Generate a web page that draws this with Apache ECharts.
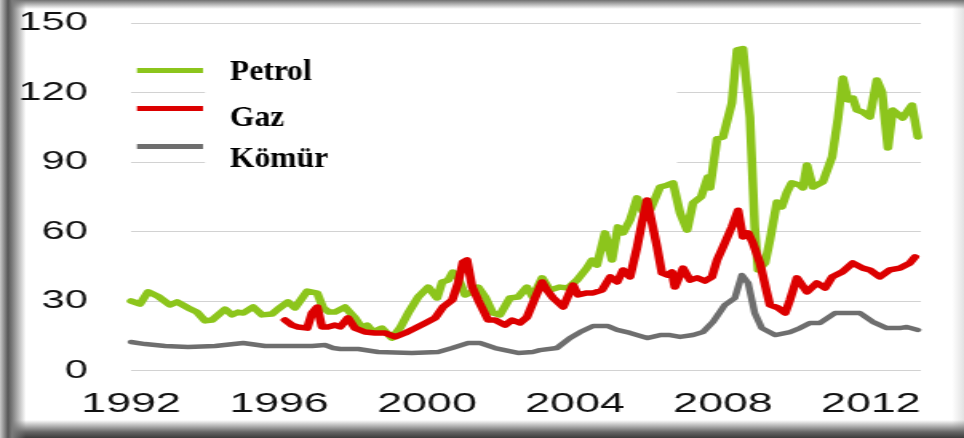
<!DOCTYPE html>
<html>
<head>
<meta charset="utf-8">
<title>Petrol Gaz Kömür</title>
<script src="https://cdn.jsdelivr.net/npm/echarts@6/dist/echarts.min.js"></script>
<style>
html,body{margin:0;padding:0;background:#fff;}
#frame{
	position:relative;width:964px;height:438px;overflow:hidden;
	background:
		linear-gradient(to right,#c8c8c8 0px,#575757 8px,#7a7a7a 12px,rgba(255,255,255,0) 26px) left top/26px 100% no-repeat,
		linear-gradient(to bottom,#707070 0px,rgba(255,255,255,0) 9px) left top/100% 9px no-repeat,
		linear-gradient(to top,#3c3c3c 0px,#666 6px,rgba(255,255,255,0) 18px) left bottom/100% 18px no-repeat,
		linear-gradient(to left,#e2e2e2 0px,rgba(255,255,255,0) 12px) right top/12px 100% no-repeat,
		#fff;
}
/* the source picture is stretched sideways, so the chart is drawn narrow and scaled */
#main{position:absolute;left:0;top:0;width:603px;height:438px;transform:scaleX(1.5987);transform-origin:0 0;}
</style>
</head>
<body>
<div id="frame"><div id="main"></div></div>
<script>
var stretch = 1.5987;

var names = ['Petrol', 'Gaz', 'Kömür'];
var colors = ['#8cc51c', '#dc0000', '#6e6e6e'];

// petrol
var petrolYears = [1992.0,1992.24,1992.46,1992.73,1993.05,1993.24,1993.54,1993.78,1994.0,1994.19,1994.54,1994.73,1994.89,1995.03,1995.3,1995.54,1995.81,1995.97,1996.24,1996.43,1996.76,1997.03,1997.19,1997.35,1997.51,1997.78,1998.05,1998.24,1998.38,1998.54,1998.78,1999.05,1999.27,1999.49,1999.76,2000.03,2000.27,2000.41,2000.57,2000.7,2000.84,2001.03,2001.22,2001.38,2001.57,2001.78,2001.97,2002.24,2002.46,2002.7,2002.86,2003.11,2003.32,2003.59,2003.81,2004.05,2004.32,2004.46,2004.59,2004.81,2005.0,2005.16,2005.3,2005.49,2005.68,2005.84,2006.03,2006.3,2006.49,2006.65,2006.84,2007.03,2007.19,2007.41,2007.59,2007.65,2007.84,2008.0,2008.24,2008.38,2008.54,2008.73,2008.86,2008.95,2009.14,2009.27,2009.46,2009.59,2009.73,2009.86,2010.08,2010.16,2010.27,2010.43,2010.7,2010.95,2011.11,2011.24,2011.38,2011.51,2011.62,2011.78,2011.97,2012.16,2012.3,2012.46,2012.59,2012.86,2013.11,2013.27];
var petrolValues = [30,28.7,34,32,28.3,29.6,27,25.2,21.4,21.8,26.5,24,25.2,24.8,27.4,24,24.4,26.5,29.6,27,34.3,33.4,27,25.2,25.2,27.4,22.7,18.3,19.6,16.6,18.3,14,18.3,24.8,31.7,36,31.3,38.2,39,42.5,40,32.6,33.9,36,31.7,24.8,24,31.3,31.7,36,31.7,40,34.7,36,35.6,39,44.2,47.7,45.5,59.4,47.7,62,59.4,65,74.5,68.4,69.2,79.2,80,81,68,60.6,72.3,75,83.5,78.8,100,100.8,115.5,138.4,139,109.4,62,43.4,46.4,56.3,72.7,70.6,77,81,80,78.8,88.7,79.2,81.4,92.2,109,126.3,116.8,117.6,112.4,111.6,109.4,125.4,120.2,96,112.4,109,114.6,100.8];

// gaz
var gazYears = [1996.16,1996.35,1996.51,1996.76,1996.89,1997.03,1997.16,1997.32,1997.51,1997.65,1997.86,1998.05,1998.32,1998.59,1998.86,1999.14,1999.41,1999.68,1999.95,2000.22,2000.43,2000.68,2000.84,2000.97,2001.08,2001.22,2001.38,2001.65,2001.84,2002.11,2002.3,2002.51,2002.7,2002.92,2003.11,2003.24,2003.41,2003.68,2003.86,2003.95,2004.08,2004.32,2004.49,2004.73,2004.95,2005.14,2005.3,2005.49,2005.68,2005.81,2005.95,2006.08,2006.22,2006.35,2006.49,2006.62,2006.7,2006.92,2007.11,2007.3,2007.51,2007.7,2007.84,2008.0,2008.24,2008.41,2008.54,2008.68,2008.81,2009.0,2009.19,2009.27,2009.49,2009.68,2009.81,2010.0,2010.27,2010.54,2010.76,2010.95,2011.22,2011.51,2011.78,2011.97,2012.24,2012.51,2012.78,2013.05,2013.19];
var gazValues = [21.8,19.6,18.8,18.3,24.8,27.4,18.8,18.8,19.6,18.8,22.7,18.3,16.6,16.2,16.2,14.5,16.2,18.3,20.5,22.7,27.4,30.4,37.8,46.8,47.7,36,30.4,21.8,21.8,19.6,21.8,20.5,23,31.3,38.2,34.7,31.3,27.4,33.9,36.9,32.6,33.5,33.5,34.7,40.4,38.2,43.4,40.4,53.3,63.7,73.6,63.7,53.3,42.1,41.2,42.5,36,44.2,39,40,38.6,40.4,47.7,53.3,62,69.2,57.6,59.4,55,46.4,33.5,28.3,27,24.8,30.4,40,33.9,37.8,35.6,40.4,42.5,46.4,44.2,43.4,40.4,43.4,44.2,46.4,49];

// kömür
var komurYears = [1992.0,1992.38,1992.92,1993.54,1994.27,1995.03,1995.62,1996.35,1996.89,1997.24,1997.46,1997.65,1998.14,1998.68,1999.59,2000.3,2000.68,2001.11,2001.43,2001.84,2002.46,2002.86,2003.05,2003.51,2003.86,2004.14,2004.49,2004.89,2005.14,2005.49,2005.95,2006.3,2006.57,2006.84,2007.19,2007.46,2007.73,2008.05,2008.32,2008.51,2008.68,2008.86,2009.05,2009.41,2009.81,2010.08,2010.35,2010.62,2011.03,2011.35,2011.7,2012.05,2012.43,2012.78,2012.97,2013.27];
var komurValues = [12.3,11.4,10.6,10.1,10.6,11.9,10.6,10.6,10.6,11,9.7,9.3,9.3,8,7.6,8,9.7,11.9,11.9,9.7,7.6,8,8.8,9.7,14,16.6,19.2,19.2,17.5,16.2,14,15.3,15.3,14.5,15.3,16.6,21,28.3,31.3,41.2,37.8,24.8,18.3,15.3,16.6,18.3,20.5,20.5,24.8,24.8,24.8,21,18.3,18.3,18.8,17.5];

var yTicks = [0, 30, 60, 90, 120, 150];
var xTickStep = 4;

function pairs(xs, ys){
	var out = [];
	for(var i = 0; i < xs.length; i++){
		out.push([xs[i], ys[i]]);
	}
	return out;
}

function lineSeries(idx, xs, ys, w, z){
	return {
		name: names[idx],
		type: 'line',
		data: pairs(xs, ys),
		showSymbol: false,
		symbol: 'none',
		z: z,
		itemStyle: {color: colors[idx]},
		lineStyle: {color: colors[idx], width: w, cap: 'round', join: 'round'}
	};
}

var myChart = echarts.init(document.getElementById('main'));

// legend labels, squeezed back so they keep their normal shape after the stretch
var labelY = [72, 118, 159];
var graphics = [{
	type: 'rect',
	z: 1,
	shape: {x: 205 / stretch, y: 35, width: (677 - 205) / stretch, height: 147},
	style: {fill: '#fff'}
}];
for(var i = 0; i < names.length; i++){
	graphics.push({
		type: 'text',
		z: 10,
		x: 230 / stretch,
		y: labelY[i],
		scaleX: 1.05 / stretch,
		style: {
			text: names[i],
			font: 'bold 30px "Liberation Serif"',
			fill: '#000',
			verticalAlign: 'middle'
		}
	});
}

var option = {
	animation: false,
	grid: {left: 82, right: 27, top: 23, bottom: 67.5},
	legend: {
		orient: 'vertical',
		left: 137 / stretch,
		top: 68,
		padding: 0,
		itemWidth: 66 / stretch,
		itemHeight: 5,
		itemGap: 33,
		icon: 'rect',
		selectedMode: false,
		data: names,
		formatter: function(){ return ''; },
		textStyle: {fontSize: 5, lineHeight: 5}
	},
	xAxis: {
		type: 'value',
		min: 1992,
		max: 2013.35,
		interval: xTickStep,
		axisLine: {show: false},
		axisTick: {show: false},
		splitLine: {show: false},
		axisLabel: {
			margin: 20,
			fontSize: 28,
			fontFamily: 'Liberation Sans',
			color: '#111',
			formatter: function(v){ return v % xTickStep === 0 ? String(v) : ''; }
		}
	},
	yAxis: {
		type: 'value',
		min: yTicks[0],
		max: yTicks[yTicks.length - 1],
		interval: yTicks[1] - yTicks[0],
		axisLine: {show: false},
		axisTick: {show: false},
		splitLine: {lineStyle: {color: '#d2d2d2', width: 1}},
		axisLabel: {
			margin: 27,
			fontSize: 26,
			fontFamily: 'Liberation Sans',
			color: '#111'
		}
	},
	graphic: {elements: graphics},
	series: [
		lineSeries(0, petrolYears, petrolValues, 5.5, 3),
		lineSeries(1, gazYears, gazValues, 5.5, 4),
		lineSeries(2, komurYears, komurValues, 4.5, 2)
	]
};
myChart.setOption(option);
</script>
</body>
</html>
